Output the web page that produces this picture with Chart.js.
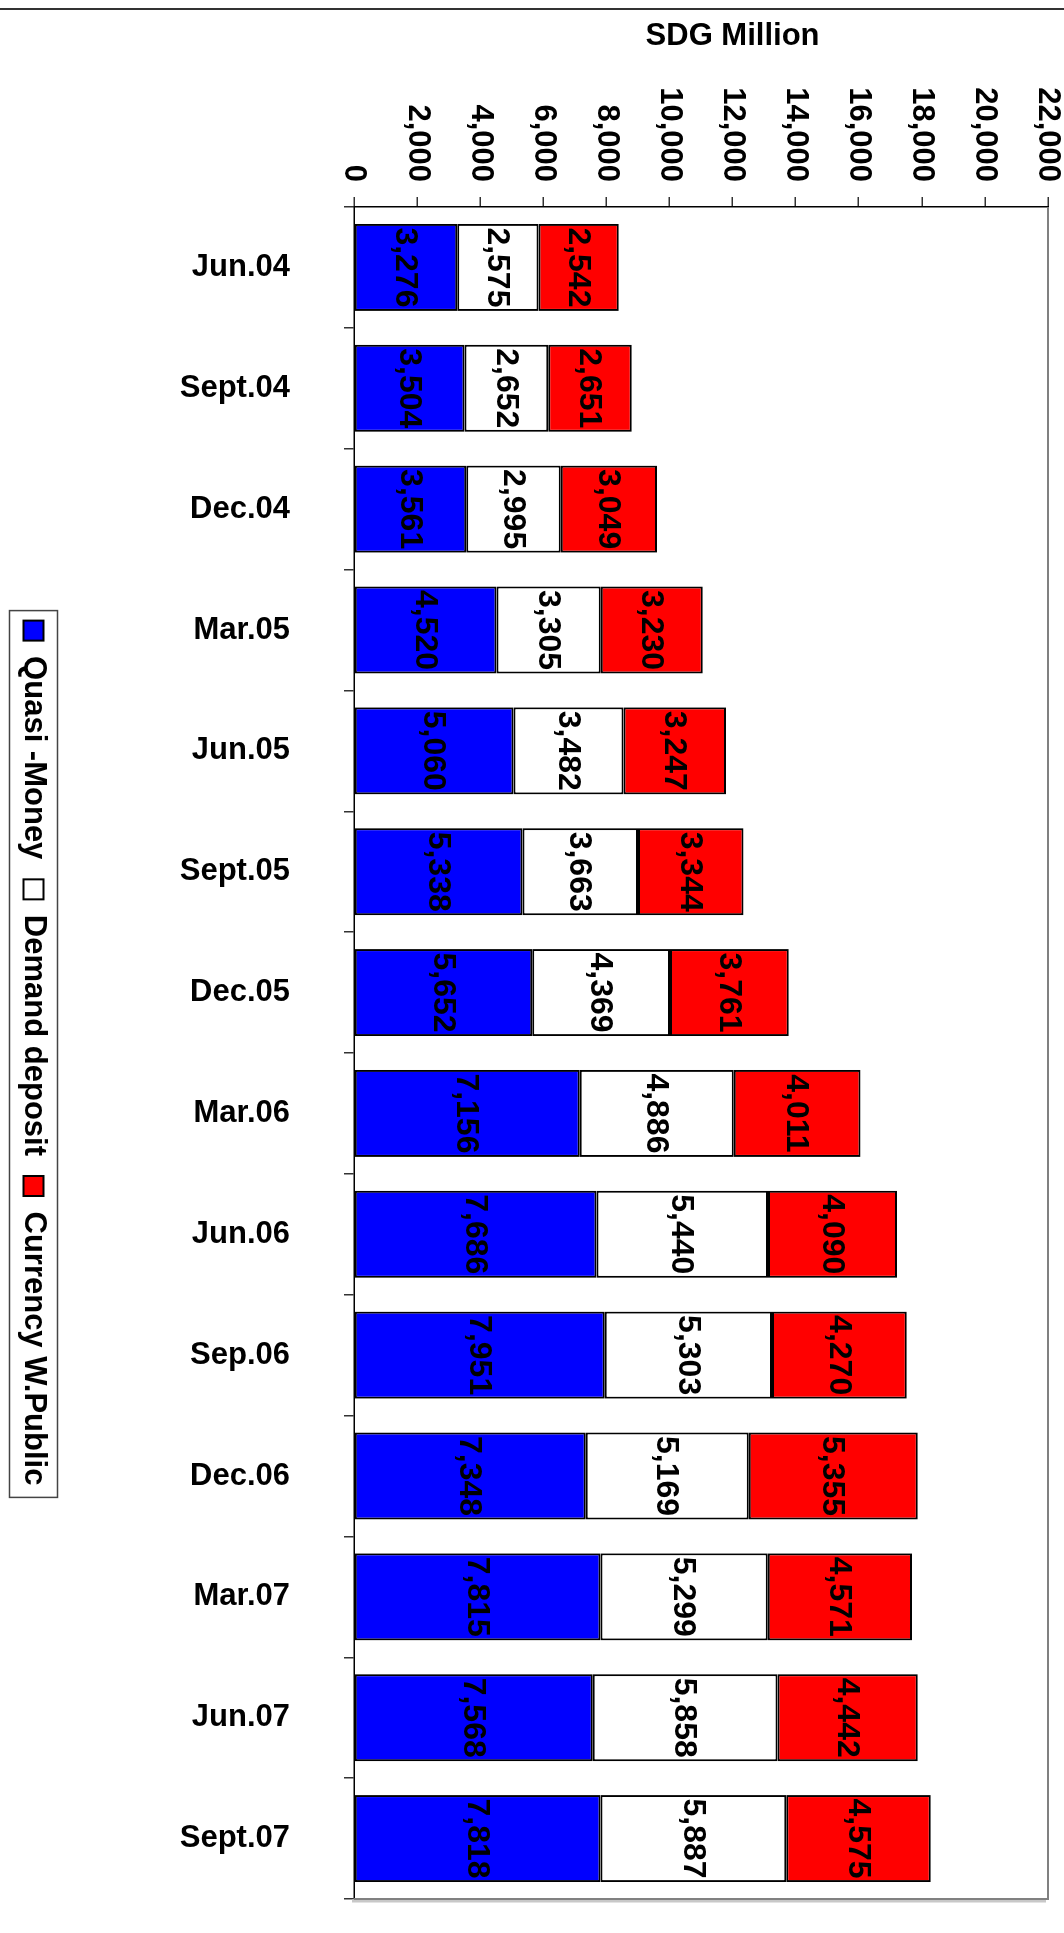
<!DOCTYPE html>
<html>
<head>
<meta charset="utf-8">
<title>Money supply components</title>
<script src="https://cdn.jsdelivr.net/npm/chart.js@4.4.1/dist/chart.umd.min.js"></script>
<style>
    html, body { margin: 0; padding: 0; background: #fff; overflow: hidden; }
    #page { position: relative; width: 1064px; height: 1933px; overflow: hidden; background: #fff; }
    /* the chart is drawn upright and turned a quarter clockwise */
    #turn { position: absolute; left: 0; top: 0; width: 1933px; height: 1064px;
            transform-origin: 0 0; transform: translateX(1064px) rotate(90deg); }
</style>
</head>
<body>
<div id="page"><div id="turn"><canvas id="chart" width="1933" height="1064"></canvas></div></div>
<script>
// Data
const categories = ['Jun.04', 'Sept.04', 'Dec.04', 'Mar.05', 'Jun.05', 'Sept.05', 'Dec.05',
                    'Mar.06', 'Jun.06', 'Sep.06', 'Dec.06', 'Mar.07', 'Jun.07', 'Sept.07'];
const quasiMoney     = [3276, 3504, 3561, 4520, 5060, 5338, 5652, 7156, 7686, 7951, 7348, 7815, 7568, 7818];
const demandDeposit  = [2575, 2652, 2995, 3305, 3482, 3663, 4369, 4886, 5440, 5303, 5169, 5299, 5858, 5887];
const currencyPublic = [2542, 2651, 3049, 3230, 3247, 3344, 3761, 4011, 4090, 4270, 5355, 4571, 4442, 4575];
const seriesNames = ['Quasi -Money', 'Demand deposit', 'Currency W.Public'];
const valueTicks = [0, 2000, 4000, 6000, 8000, 10000, 12000, 14000, 16000, 18000, 20000, 22000];
const axisTitle = 'SDG Million';

const FONT = '"Liberation Sans", Arial, sans-serif';
Chart.defaults.font.family = FONT;
Chart.defaults.font.weight = 'bold';
Chart.defaults.color = '#000';

const fmt = v => Number(v).toLocaleString('en-US');

// value labels inside each segment
const segmentLabels = {
    id: 'segmentLabels',
    afterDatasetsDraw(chart) {
        const ctx = chart.ctx;
        ctx.save();
        ctx.font = 'bold 32px ' + FONT;
        ctx.fillStyle = '#000';
        ctx.textAlign = 'center';
        ctx.textBaseline = 'middle';
        chart.data.datasets.forEach((ds, i) => {
            chart.getDatasetMeta(i).data.forEach((bar, j) => {
                ctx.fillText(fmt(ds.data[j]), bar.x, (bar.y + bar.base) / 2 + 1);
            });
        });
        ctx.restore();
    }
};

// plot frame, page rule, axis title and legend box
const extras = {
    id: 'extras',
    beforeDatasetsDraw(chart) {
        const { ctx, chartArea: a } = chart;
        ctx.save();
        ctx.strokeStyle = '#c8c8c8';
        ctx.lineWidth = 3;
        ctx.beginPath();
        ctx.moveTo(a.right + 2, a.top + 2);
        ctx.lineTo(a.right + 2, a.bottom + 2);
        ctx.stroke();
        ctx.strokeStyle = '#808080';
        ctx.lineWidth = 2;
        ctx.beginPath();
        ctx.moveTo(a.left, a.top);
        ctx.lineTo(a.right, a.top);
        ctx.lineTo(a.right, a.bottom);
        ctx.stroke();
        ctx.restore();
    },
    afterDraw(chart) {
        const { ctx } = chart;
        ctx.save();
        // rule across the page
        ctx.strokeStyle = '#333';
        ctx.lineWidth = 2;
        ctx.beginPath();
        ctx.moveTo(9, 0);
        ctx.lineTo(9, chart.height);
        ctx.stroke();

        // axis title
        const y = chart.scales.y;
        ctx.translate(36, y.getPixelForValue(12000));
        ctx.rotate(-Math.PI / 2);
        ctx.font = 'bold 31px ' + FONT;
        ctx.fillStyle = '#000';
        ctx.textAlign = 'center';
        ctx.textBaseline = 'middle';
        ctx.fillText(axisTitle, 0, 0);
        ctx.restore();

        // box round the legend
        const boxes = chart.legend.legendHitBoxes;
        if (boxes && boxes.length) {
            const left = Math.min(...boxes.map(b => b.left)) - 10;
            const right = Math.max(...boxes.map(b => b.left + b.width)) + 12;
            const cy = boxes[0].top + boxes[0].height / 2;
            ctx.save();
            ctx.strokeStyle = '#444';
            ctx.lineWidth = 1.5;
            ctx.strokeRect(left, cy - 24, right - left, 48);
            ctx.restore();
        }
    }
};

const ctx = document.getElementById('chart').getContext('2d');
new Chart(ctx, {
    type: 'bar',
    data: {
        labels: categories,
        datasets: [
            { label: seriesNames[0], data: quasiMoney, backgroundColor: '#0000ff' },
            { label: seriesNames[1], data: demandDeposit, backgroundColor: '#ffffff' },
            { label: seriesNames[2], data: currencyPublic, backgroundColor: '#ff0000' }
        ]
    },
    options: {
        responsive: false,
        animation: false,
        devicePixelRatio: 1,
        datasets: {
            bar: {
                borderColor: '#000',
                borderWidth: 2,
                borderSkipped: false,
                categoryPercentage: 1,
                barPercentage: 0.72
            }
        },
        layout: { padding: { top: 16, right: 34, bottom: 8, left: 0 } },
        scales: {
            x: {
                stacked: true,
                grid: { drawOnChartArea: false, tickLength: 10, color: '#333', lineWidth: 1.5 },
                border: { color: '#000', width: 1.5 },
                ticks: {
                    minRotation: 90, maxRotation: 90, padding: 54, autoSkip: false,
                    font: { size: 31, weight: 'bold' }, color: '#000'
                },
                afterFit(scale) { scale.height = 285; }
            },
            y: {
                stacked: true,
                min: 0,
                max: 22000,
                grid: { drawOnChartArea: false, tickLength: 10, color: '#333', lineWidth: 1.5 },
                border: { color: '#000', width: 1.5 },
                afterBuildTicks(scale) { scale.ticks = valueTicks.map(v => ({ value: v })); },
                ticks: {
                    padding: 15,
                    font: { size: 31, weight: 'bold' },
                    color: '#000',
                    callback: v => fmt(v)
                },
                afterFit(scale) {
                    scale.width = 207;
                    scale.paddingTop = 0;
                    scale.paddingBottom = 0;
                }
            }
        },
        plugins: {
            legend: {
                position: 'bottom',
                fullSize: false,
                labels: {
                    boxWidth: 20,
                    boxHeight: 20,
                    padding: 20,
                    color: '#000',
                    font: { size: 31, weight: 'bold' }
                }
            },
            tooltip: { enabled: false }
        }
    },
    plugins: [segmentLabels, extras]
});
</script>
</body>
</html>
